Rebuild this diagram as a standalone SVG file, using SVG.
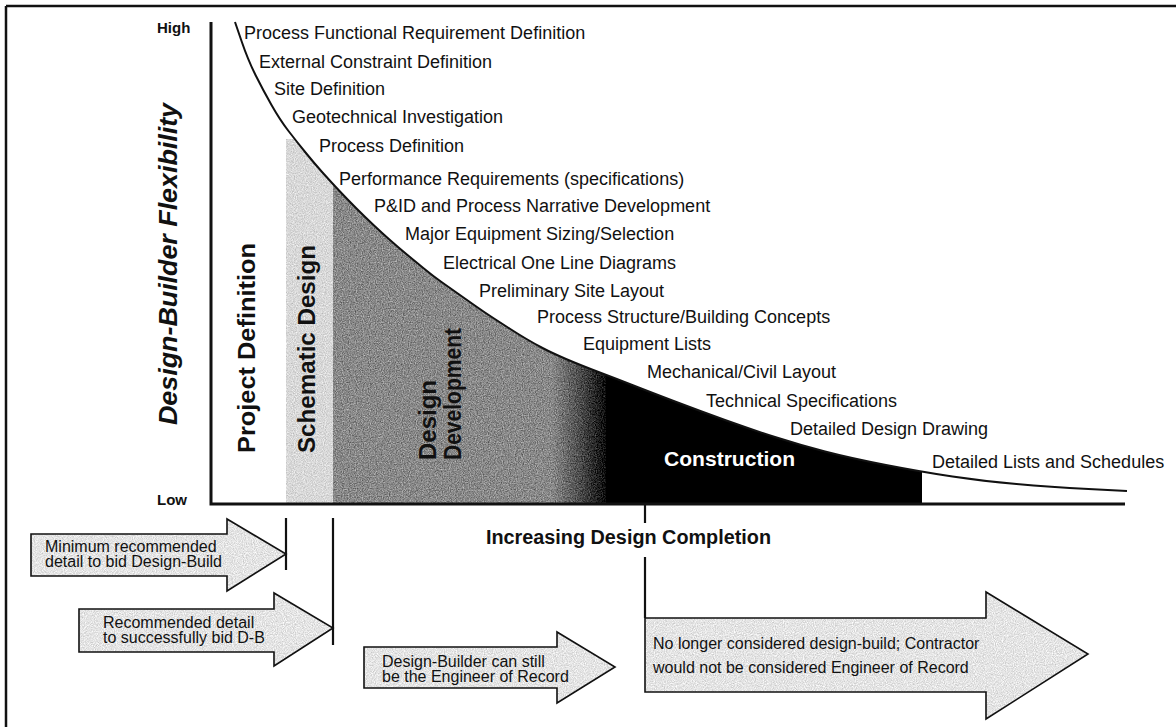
<svg xmlns="http://www.w3.org/2000/svg" width="1176" height="727" viewBox="0 0 1176 727">
<style>
.lbl{font-family:"Liberation Sans",Arial,sans-serif;font-size:18px;fill:#111}
.ax{font-family:"Liberation Sans",Arial,sans-serif;font-size:15px;font-weight:bold;fill:#111}
.phase{font-family:"Liberation Sans",Arial,sans-serif;font-size:24px;font-weight:bold;fill:#111}
.atx{font-family:"Liberation Sans",Arial,sans-serif;font-size:16px;fill:#111}
.afill{fill:#e4e4e4;stroke:none}
.aline{fill:none;stroke:#111;stroke-width:1.6;stroke-linejoin:miter}
.mark{stroke:#111;stroke-width:2.2;fill:none}
</style>
<defs>
<filter id="grainD" filterUnits="userSpaceOnUse" x="0" y="0" width="1176" height="727" color-interpolation-filters="sRGB">
<feTurbulence type="fractalNoise" baseFrequency="0.85" numOctaves="2" seed="4" result="n"/>
<feColorMatrix in="n" type="matrix" values="1 0 0 0 0 1 0 0 0 0 1 0 0 0 0 0 0 0 0 1" result="g"/>
<feComposite in="SourceGraphic" in2="g" operator="arithmetic" k1="0" k2="1" k3="0.6" k4="-0.3" result="m"/>
<feComposite in="m" in2="SourceGraphic" operator="in"/>
</filter>
<filter id="grainL" filterUnits="userSpaceOnUse" x="0" y="0" width="1176" height="727" color-interpolation-filters="sRGB">
<feTurbulence type="fractalNoise" baseFrequency="0.9" numOctaves="2" seed="9" result="n"/>
<feColorMatrix in="n" type="matrix" values="1 0 0 0 0 1 0 0 0 0 1 0 0 0 0 0 0 0 0 1" result="g"/>
<feComposite in="SourceGraphic" in2="g" operator="arithmetic" k1="0" k2="1" k3="0.34" k4="-0.17" result="m"/>
<feComposite in="m" in2="SourceGraphic" operator="in"/>
</filter>
<linearGradient id="toBlack" gradientUnits="userSpaceOnUse" x1="552" y1="0" x2="610" y2="0">
<stop offset="0" stop-color="#888"/>
<stop offset="0.5" stop-color="#4a4a4a"/>
<stop offset="1" stop-color="#000"/>
</linearGradient>
<path id="curve" d="M235,22 L241.5,41 Q248,60 255.5,75 Q263,90 271.5,105 Q280,120 288.5,131 Q297,142 305.5,152.5 Q314,163 322.5,172.5 Q331,182 339.5,191 Q348,200 356.5,208.5 Q365,217 373.5,225 Q382,233 390.5,240.5 Q399,248 407.5,255 Q416,262 424.5,269 Q433,276 441.5,282 Q450,288 458.5,294 Q467,300 475.5,306 Q484,312 492.5,317.5 Q501,323 509.5,328.5 Q518,334 526.5,339 Q535,344 543.5,348.5 Q552,353 566,359 Q580,365 598.5,372 Q617,379 633.5,385.5 Q650,392 675,401.5 Q700,411 725,420 Q750,429 775,437 Q800,445 825,451.5 Q850,458 886,465 Q922,472 952.5,476.5 Q983,481 1016.5,484 Q1050,487 1088.5,489 L1127,491"/>
<clipPath id="under">
<path d="M235,22 L241.5,41 Q248,60 255.5,75 Q263,90 271.5,105 Q280,120 288.5,131 Q297,142 305.5,152.5 Q314,163 322.5,172.5 Q331,182 339.5,191 Q348,200 356.5,208.5 Q365,217 373.5,225 Q382,233 390.5,240.5 Q399,248 407.5,255 Q416,262 424.5,269 Q433,276 441.5,282 Q450,288 458.5,294 Q467,300 475.5,306 Q484,312 492.5,317.5 Q501,323 509.5,328.5 Q518,334 526.5,339 Q535,344 543.5,348.5 Q552,353 566,359 Q580,365 598.5,372 Q617,379 633.5,385.5 Q650,392 675,401.5 Q700,411 725,420 Q750,429 775,437 Q800,445 825,451.5 Q850,458 886,465 Q922,472 952.5,476.5 Q983,481 1016.5,484 Q1050,487 1088.5,489 L1127,491 L1127,504 L211,504 L211,22 Z"/>
</clipPath>
</defs>

<rect x="0" y="0" width="1176" height="727" fill="#fff"/>
<g id="frame" stroke="#111" stroke-width="2.5" fill="none">
<line x1="6" y1="6" x2="1176" y2="6"/>
<line x1="6" y1="6" x2="6" y2="727"/>
</g>

<g id="phases" clip-path="url(#under)">
<rect x="286" y="139" width="48" height="366" fill="#d8d8d8" filter="url(#grainL)"/>
<rect x="333" y="20" width="278" height="485" fill="url(#toBlack)" filter="url(#grainD)"/>
<rect x="606" y="20" width="316" height="485" fill="#000"/>
</g>

<g id="axes">
<polyline points="211,22 211,504 1125,504" fill="none" stroke="#111" stroke-width="3"/>
<use href="#curve" fill="none" stroke="#111" stroke-width="2"/>
<text class="ax" x="157" y="33">High</text>
<text class="ax" x="157" y="505">Low</text>
<text x="177" y="425" transform="rotate(-90 177 425)" font-family="Liberation Sans, Arial, sans-serif" font-size="26" font-weight="bold" font-style="italic" fill="#111" textLength="322" lengthAdjust="spacingAndGlyphs">Design-Builder Flexibility</text>
<text x="486" y="544" font-family="Liberation Sans, Arial, sans-serif" font-size="20" font-weight="bold" fill="#111" textLength="285" lengthAdjust="spacingAndGlyphs">Increasing Design Completion</text>
</g>

<g id="phase-labels">
<text class="phase" x="255" y="453" transform="rotate(-90 255 453)" textLength="210" lengthAdjust="spacingAndGlyphs">Project Definition</text>
<text class="phase" x="315" y="453" transform="rotate(-90 315 453)" textLength="208" lengthAdjust="spacingAndGlyphs">Schematic Design</text>
<text class="phase" x="436" y="460" transform="rotate(-90 436 460)" font-size="22" textLength="80" lengthAdjust="spacingAndGlyphs">Design</text>
<text class="phase" x="461" y="460" transform="rotate(-90 461 460)" font-size="22" textLength="132" lengthAdjust="spacingAndGlyphs">Development</text>
<text x="664" y="466" font-family="Liberation Sans, Arial, sans-serif" font-size="21" font-weight="bold" fill="#fff" textLength="131" lengthAdjust="spacingAndGlyphs">Construction</text>
</g>

<g id="milestones">
<text class="lbl" x="244" y="39">Process Functional Requirement Definition</text>
<text class="lbl" x="259" y="68">External Constraint Definition</text>
<text class="lbl" x="274" y="95">Site Definition</text>
<text class="lbl" x="292" y="123">Geotechnical Investigation</text>
<text class="lbl" x="319" y="152">Process Definition</text>
<text class="lbl" x="339" y="185">Performance Requirements (specifications)</text>
<text class="lbl" x="374" y="212">P&amp;ID and Process Narrative Development</text>
<text class="lbl" x="405" y="240">Major Equipment Sizing/Selection</text>
<text class="lbl" x="443" y="269">Electrical One Line Diagrams</text>
<text class="lbl" x="479" y="297">Preliminary Site Layout</text>
<text class="lbl" x="537" y="323">Process Structure/Building Concepts</text>
<text class="lbl" x="583" y="350">Equipment Lists</text>
<text class="lbl" x="647" y="378">Mechanical/Civil Layout</text>
<text class="lbl" x="706" y="407">Technical Specifications</text>
<text class="lbl" x="790" y="435">Detailed Design Drawing</text>
<text class="lbl" x="932" y="468">Detailed Lists and Schedules</text>
</g>

<g id="arrow-minimum">
<polygon class="afill" filter="url(#grainL)" points="31,534 227,534 227,519 286,554 227,591 227,576 31,576"/>
<polygon class="aline" points="31,534 227,534 227,519 286,554 227,591 227,576 31,576"/>
<text class="atx" x="45" y="552">Minimum recommended</text>
<text class="atx" x="45" y="567">detail to bid Design-Build</text>
</g>

<g id="arrow-recommended">
<polygon class="afill" filter="url(#grainL)" points="79,609 274,609 274,593 333,628 274,666 274,652 79,652"/>
<polygon class="aline" points="79,609 274,609 274,593 333,628 274,666 274,652 79,652"/>
<text class="atx" x="103" y="628">Recommended detail</text>
<text class="atx" x="103" y="643">to successfully bid D-B</text>
</g>

<g id="arrow-engineer">
<polygon class="afill" filter="url(#grainL)" points="364,647 557,647 557,632 615,667 557,703 557,688 364,688"/>
<polygon class="aline" points="364,647 557,647 557,632 615,667 557,703 557,688 364,688"/>
<text class="atx" x="382" y="667">Design-Builder can still</text>
<text class="atx" x="382" y="682">be the Engineer of Record</text>
</g>

<g id="arrow-no-longer">
<polygon class="afill" filter="url(#grainL)" points="645,618 986,618 986,592 1088,654 986,719 986,692 645,692"/>
<polygon class="aline" points="645,618 986,618 986,592 1088,654 986,719 986,692 645,692"/>
<text class="atx" x="653" y="649">No longer considered design-build; Contractor</text>
<text class="atx" x="653" y="673">would not be considered Engineer of Record</text>
</g>

<g id="connectors">
<line class="mark" x1="286" y1="518" x2="286" y2="570"/>
<line class="mark" x1="333" y1="518" x2="333" y2="645"/>
<line class="mark" x1="645" y1="505" x2="645" y2="523"/>
<line class="mark" x1="645" y1="557" x2="645" y2="618"/>
</g>
</svg>
